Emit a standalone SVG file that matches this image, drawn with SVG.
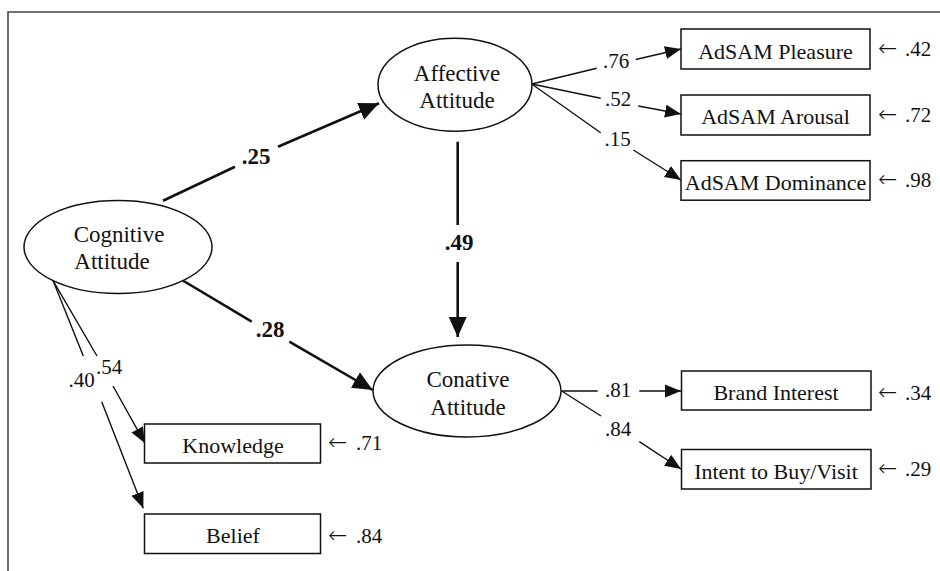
<svg xmlns="http://www.w3.org/2000/svg" width="940" height="571" viewBox="0 0 940 571">
<style>
text{font-family:"Liberation Serif","Times New Roman",serif;fill:#111}
.node{fill:#fff;stroke:#111;stroke-width:1.5}
.lbl{font-size:23px;text-anchor:middle}
.box{font-size:22px;text-anchor:middle}
.num{font-size:21px}
.arr{font-family:"DejaVu Sans",sans-serif;font-size:23px;font-weight:200}
.bnum{font-size:23px;font-weight:bold}
.thin{fill:none;stroke:#111;stroke-width:1.4}
.bold{fill:none;stroke:#111;stroke-width:2.6}
</style>
<defs>
<marker id="ah" markerUnits="userSpaceOnUse" markerWidth="17" markerHeight="14" refX="16" refY="7" orient="auto">
<path d="M0,0.5 L16,7 L0,13.5 z" fill="#111"/>
</marker>
<marker id="ahb" markerUnits="userSpaceOnUse" markerWidth="21" markerHeight="20" refX="20" refY="10" orient="auto">
<path d="M0,1 L20,10 L0,19 z" fill="#111"/>
</marker>
</defs>
<rect width="940" height="571" fill="#fff"/>
<path d="M8,571 L8,12 L940,12" fill="none" stroke="#444" stroke-width="1.6"/>

<g id="connectors">
<path class="bold" d="M163,200.7 L235,166.7 M278,146.7 L379,103.3" marker-end="url(#ahb)"/>
<text class="bnum" x="256" y="164" text-anchor="middle">.25</text>
<path class="bold" d="M457.7,141.7 L457.7,225 M457.7,262 L457.7,337" marker-end="url(#ahb)"/>
<text class="bnum" x="459" y="250" text-anchor="middle">.49</text>
<path class="bold" d="M182,280 L251.7,321.7 M289.3,341.7 L372.7,390" marker-end="url(#ahb)"/>
<text class="bnum" x="270" y="336.7" text-anchor="middle">.28</text>

<path class="thin" d="M531.7,84 L596.7,68.3 M635.7,59.5 L681,49" marker-end="url(#ah)"/>
<text class="num" x="616" y="68.3" text-anchor="middle">.76</text>
<path class="thin" d="M531.7,84 L600.7,98.3 M638.3,106 L681,114" marker-end="url(#ah)"/>
<text class="num" x="618" y="106" text-anchor="middle">.52</text>
<path class="thin" d="M531.7,84 L600.7,132.7 M633.3,150 L681,180" marker-end="url(#ah)"/>
<text class="num" x="617.5" y="146" text-anchor="middle">.15</text>

<path class="thin" d="M561.7,391 L597.7,391 M639.3,391 L681,391" marker-end="url(#ah)"/>
<text class="num" x="618" y="396.7" text-anchor="middle">.81</text>
<path class="thin" d="M561.7,391 L601,416 M639.3,441.7 L681,469" marker-end="url(#ah)"/>
<text class="num" x="618" y="436" text-anchor="middle">.84</text>

<path class="thin" d="M53,280.6 L97,356 M113,386 L145,443.3" marker-end="url(#ah)"/>
<text class="num" x="109" y="374" text-anchor="middle">.54</text>
<path class="thin" d="M53,280.6 L83.3,356 M101.7,401.7 L143.3,508.3" marker-end="url(#ah)"/>
<text class="num" x="81.5" y="386.7" text-anchor="middle">.40</text>
</g>

<g id="cognitive">
<ellipse class="node" cx="118" cy="247" rx="94" ry="46.5"/>
<text class="lbl" x="119" y="241.7">Cognitive</text>
<text class="lbl" x="112" y="269">Attitude</text>
</g>
<g id="affective">
<ellipse class="node" cx="455" cy="84.7" rx="77" ry="46.5"/>
<text class="lbl" x="457" y="81">Affective</text>
<text class="lbl" x="457" y="108.3">Attitude</text>
</g>
<g id="conative">
<ellipse class="node" cx="467" cy="391" rx="94" ry="46"/>
<text class="lbl" x="468" y="386.7">Conative</text>
<text class="lbl" x="468" y="414.5">Attitude</text>
</g>

<g id="pleasure">
<rect class="node" x="681" y="29" width="189" height="40"/>
<text class="box" x="775.5" y="59">AdSAM Pleasure</text>
<text class="num" x="878" y="56"><tspan class="arr">←</tspan><tspan x="905">.42</tspan></text>
</g>
<g id="arousal">
<rect class="node" x="681" y="95" width="189" height="40"/>
<text class="box" x="775.5" y="124.3">AdSAM Arousal</text>
<text class="num" x="878" y="121.7"><tspan class="arr">←</tspan><tspan x="905">.72</tspan></text>
</g>
<g id="dominance">
<rect class="node" x="681" y="160.7" width="189" height="39.5"/>
<text class="box" x="775.5" y="190">AdSAM Dominance</text>
<text class="num" x="878" y="186.7"><tspan class="arr">←</tspan><tspan x="905">.98</tspan></text>
</g>
<g id="brand">
<rect class="node" x="681.5" y="371" width="189.5" height="39"/>
<text class="box" x="776" y="400">Brand Interest</text>
<text class="num" x="878" y="400"><tspan class="arr">←</tspan><tspan x="905">.34</tspan></text>
</g>
<g id="intent">
<rect class="node" x="681.5" y="449.5" width="189.5" height="39.5"/>
<text class="box" x="776" y="479">Intent to Buy/Visit</text>
<text class="num" x="878" y="476"><tspan class="arr">←</tspan><tspan x="905">.29</tspan></text>
</g>
<g id="knowledge">
<rect class="node" x="144.5" y="424" width="176" height="39"/>
<text class="box" x="233" y="452.7">Knowledge</text>
<text class="num" x="328" y="450"><tspan class="arr">←</tspan><tspan x="356">.71</tspan></text>
</g>
<g id="belief">
<rect class="node" x="144.5" y="514" width="176" height="39.5"/>
<text class="box" x="233" y="543.3">Belief</text>
<text class="num" x="328" y="543"><tspan class="arr">←</tspan><tspan x="356">.84</tspan></text>
</g>
</svg>
